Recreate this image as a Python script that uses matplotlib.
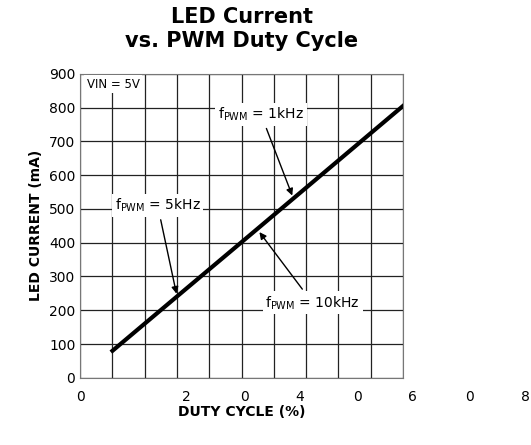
import matplotlib.pyplot as plt

duty = [10, 30, 55, 100]
current = [80, 241, 442, 805]
xtick_text = ["0", "2", "0", "4", "0", "6", "0", "8"]
xtick_pos = [0, 33, 51, 68, 86, 102.8, 120.7, 137.8]

fig = plt.figure(figsize=(5.31, 4.45), dpi=100)
ax = fig.add_axes([0.151, 0.151, 0.608, 0.683])
ax.plot(duty, current, color='black', lw=3)
ax.set_xlim(0, 100)
ax.set_ylim(0, 900)
ax.set_xticks(range(0, 101, 10))
ax.set_xticklabels([])
ax.set_yticks(range(0, 901, 100))
ax.tick_params(length=0, labelsize=10)
ax.grid(True, color='#222222', lw=0.9)
for s in ax.spines.values():
    s.set_color('#777777')
for p, t in zip(xtick_pos, xtick_text):
    ax.text(p, -35, t, ha='center', va='top', fontsize=10, clip_on=False)
ax.set_xlabel("DUTY CYCLE (%)", fontweight='bold', fontsize=10, labelpad=16)
ax.set_ylabel("LED CURRENT (mA)", fontweight='bold', fontsize=10)
fig.text(0.455, 0.985, "LED Current\nvs. PWM Duty Cycle", ha='center', va='top',
         fontsize=15, fontweight='bold', linespacing=1.25)

box = dict(facecolor='white', edgecolor='none', pad=2)
ax.text(2, 870, "VIN = 5V", fontsize=8.5, va='center', bbox=box)
ax.annotate(r"f$_{\mathregular{PWM}}$ = 1kHz", xy=(66, 532), xytext=(56, 780),
            ha='center', va='center', fontsize=10, bbox=box,
            arrowprops=dict(arrowstyle='-|>', color='black', lw=1))
ax.annotate(r"f$_{\mathregular{PWM}}$ = 5kHz", xy=(30, 241), xytext=(24, 510),
            ha='center', va='center', fontsize=10, bbox=box,
            arrowprops=dict(arrowstyle='-|>', color='black', lw=1))
ax.annotate(r"f$_{\mathregular{PWM}}$ = 10kHz", xy=(55, 438), xytext=(72, 222),
            ha='center', va='center', fontsize=10, bbox=box,
            arrowprops=dict(arrowstyle='-|>', color='black', lw=1))
fig.savefig("out.png", dpi=100)
